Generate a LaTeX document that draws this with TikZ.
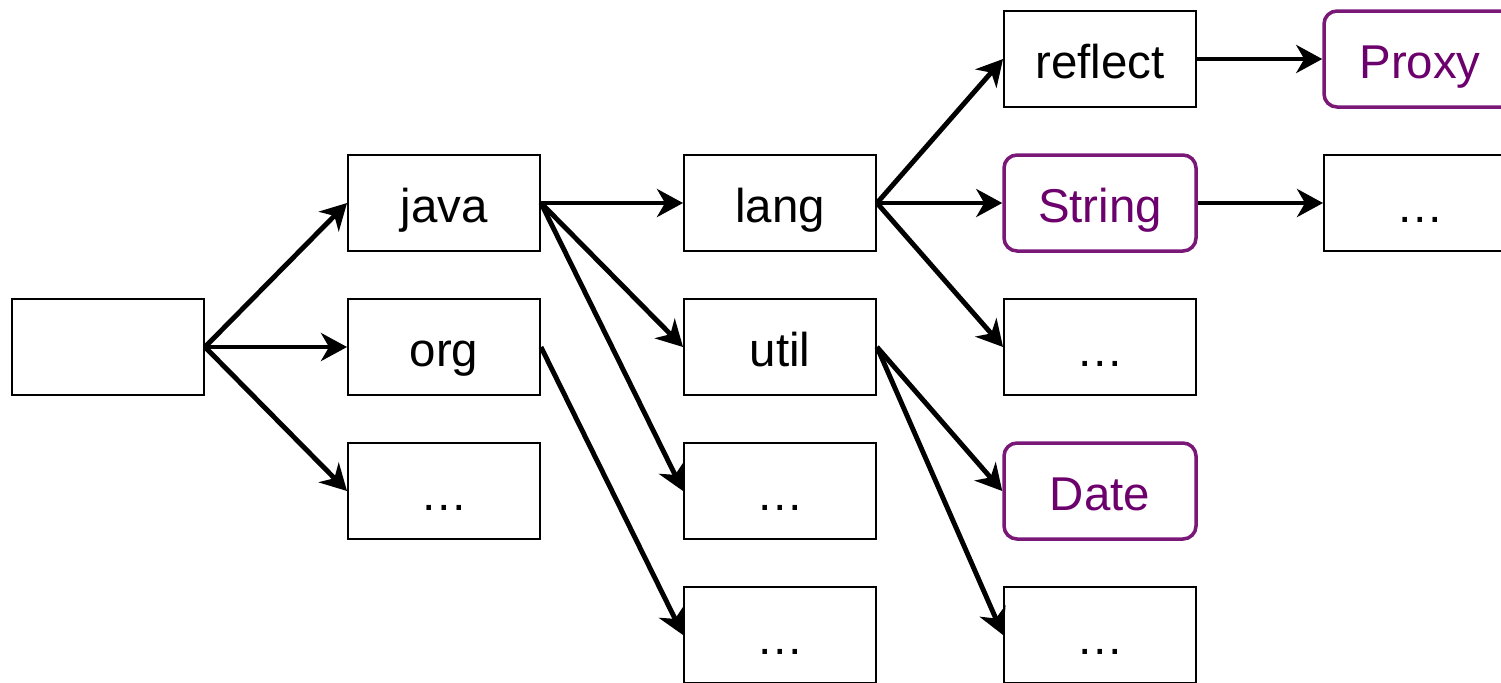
\documentclass[tikz,border=0pt]{standalone}
\usepackage{fontspec}
\setmainfont{Liberation Sans}
\usetikzlibrary{arrows.meta}
\definecolor{pkgpurple}{RGB}{122,24,120}
\definecolor{pkgtext}{RGB}{108,0,108}

\begin{document}
\begin{tikzpicture}[
    pkg/.style={draw, line width=1.1pt, minimum width=3.84cm, minimum height=1.92cm, text height=0.96cm, text depth=0.2cm, font=\fontsize{27}{32}\selectfont},
    cls/.style={pkg, draw=pkgpurple, text=pkgtext, line width=2pt, rounded corners=0.26cm},
    link/.style={line width=2.8pt, -{Stealth[length=0.52cm, width=0.56cm, inset=0.16cm]}}
  ]
    \useasboundingbox (0,0) rectangle (30.02,-13.64);
    \node[pkg] (root) at (2.16,-6.94) {};
    \node[pkg] (java) at (8.88,-4.06) {java};
    \node[pkg] (org) at (8.88,-6.94) {org};
    \node[pkg] (e1) at (8.88,-9.82) {…};
    \node[pkg] (lang) at (15.6,-4.06) {lang};
    \node[pkg] (util) at (15.6,-6.94) {util};
    \node[pkg] (e2) at (15.6,-9.82) {…};
    \node[pkg] (e3) at (15.6,-12.70) {…};
    \node[pkg] (reflect) at (22.0,-1.18) {reflect};
    \node[cls] (string) at (22.0,-4.06) {String};
    \node[pkg] (e4) at (22.0,-6.94) {…};
    \node[cls] (date) at (22.0,-9.82) {Date};
    \node[pkg] (e5) at (22.0,-12.70) {…};
    \node[cls] (proxy) at (28.4,-1.18) {Proxy};
    \node[pkg] (e6) at (28.4,-4.06) {…};
    \draw[link] (root.east) -- (java.west);
    \draw[link] (root.east) -- (org.west);
    \draw[link] (root.east) -- (e1.west);
    \draw[link] (java.east) -- (lang.west);
    \draw[link] (java.east) -- (util.west);
    \draw[link] (java.east) -- (e2.west);
    \draw[link] (org.east) -- (e3.west);
    \draw[link] (lang.east) -- (reflect.west);
    \draw[link] (lang.east) -- (string.west);
    \draw[link] (lang.east) -- (e4.west);
    \draw[link] (util.east) -- (date.west);
    \draw[link] (util.east) -- (e5.west);
    \draw[link] (reflect.east) -- (proxy.west);
    \draw[link] (string.east) -- (e6.west);
\end{tikzpicture}
\end{document}
